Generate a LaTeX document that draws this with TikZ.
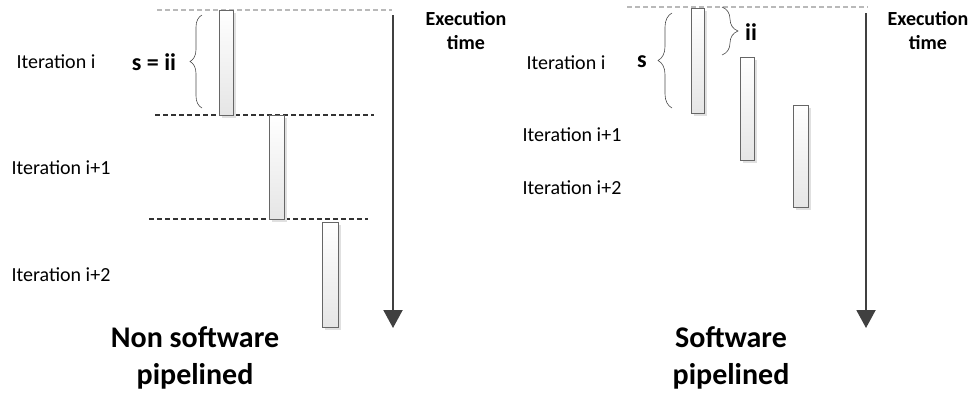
\documentclass[tikz,border=0pt]{standalone}
\usepackage{fontspec}
\setmainfont{Carlito}
\usetikzlibrary{arrows.meta,shadows,decorations.pathreplacing}
\begin{document}
\begin{tikzpicture}[x=1pt,y=-1pt,
  lbl/.style={font=\fontsize{20}{24}\selectfont, inner sep=0pt},
  blbl/.style={font=\fontsize{20}{24}\selectfont\bfseries, inner sep=0pt, align=center},
  sym/.style={font=\fontsize{24}{28}\selectfont\bfseries, inner sep=0pt},
  ttl/.style={font=\fontsize{30}{37}\selectfont\bfseries, inner sep=0pt, align=center},
  bar/.style={draw=gray!80!black, line width=0.8pt, top color=white, bottom color=gray!20,
    minimum width=14pt, inner sep=0pt,
    drop shadow={shadow xshift=3pt, shadow yshift=-3pt, fill=black!12, opacity=1}},
  topline/.style={draw=gray!55, dash pattern=on 5pt off 3pt, line width=1.2pt},
  sepline/.style={draw=black!80, dash pattern=on 5pt off 3pt, line width=1.5pt},
  timearrow/.style={draw=black!75, line width=2pt, -{Triangle[width=19pt,length=18pt,fill=black!75]}},
  bracestyle/.style={decorate, draw=black!70, line width=0.6pt}
]
\useasboundingbox (0,0) rectangle (976,392);

% ---------- left panel ----------
\coordinate (lt1) at (157,10);  \coordinate (lt2) at (392,10);
\coordinate (ls1a) at (155,115); \coordinate (ls1b) at (374,115);
\coordinate (ls2a) at (149,219); \coordinate (ls2b) at (368,219);
\draw[topline] (lt1) -- (lt2);
\draw[sepline] (ls1a) -- (ls1b);
\draw[sepline] (ls2a) -- (ls2b);

\node[bar, minimum height=105pt] (L1) at (226,62.5) {};
\node[bar, minimum width=15pt, minimum height=104pt] (L2) at (276.5,167) {};
\node[bar, minimum width=16pt, minimum height=105pt] (L3) at (330,274.5) {};

\coordinate (lb1) at (202,108); \coordinate (lb2) at (202,15);
\draw[bracestyle, decoration={brace, amplitude=12pt}] (lb1) -- (lb2);

\node[lbl] (li0) at (56,62) {Iteration i};
\node[sym] (lsii) at (154,62) {s = ii};
\node[lbl] (li1) at (61,168) {Iteration i+1};
\node[lbl] (li2) at (61,275) {Iteration i+2};

\coordinate (la1) at (393,15); \coordinate (la2) at (393,328);
\draw[timearrow] (la1) -- (la2);
\node[blbl, anchor=north] (lexec) at (466,11) {Execution\\time};
\node[ttl, anchor=north] (ltitle) at (195,326) {Non software\\pipelined};

% ---------- right panel ----------
\coordinate (rt1) at (627,7); \coordinate (rt2) at (868,7);
\draw[topline] (rt1) -- (rt2);

\node[bar, minimum width=13pt, minimum height=105pt] (R1) at (697.5,60.5) {};
\node[bar, minimum height=103pt] (R2) at (747,108.5) {};
\node[bar, minimum width=15pt, minimum height=102pt] (R3) at (800.5,156) {};

\coordinate (rb1) at (672,108); \coordinate (rb2) at (672,13);
\draw[bracestyle, decoration={brace, amplitude=14pt}] (rb1) -- (rb2);
\coordinate (rc1) at (722,7); \coordinate (rc2) at (722,55);
\draw[bracestyle, decoration={brace, amplitude=16pt}] (rc1) -- (rc2);

\node[sym] (rs) at (642,62) {s};
\node[sym] (rii) at (751,32) {ii};
\node[lbl] (ri0) at (566,63) {Iteration i};
\node[lbl] (ri1) at (572,135) {Iteration i+1};
\node[lbl] (ri2) at (572,188) {Iteration i+2};

\coordinate (ra1) at (866,13); \coordinate (ra2) at (866,328);
\draw[timearrow] (ra1) -- (ra2);
\node[blbl, anchor=north] (rexec) at (928,11) {Execution\\time};
\node[ttl, anchor=north] (rtitle) at (731,326) {Software\\pipelined};
\end{tikzpicture}
\end{document}
